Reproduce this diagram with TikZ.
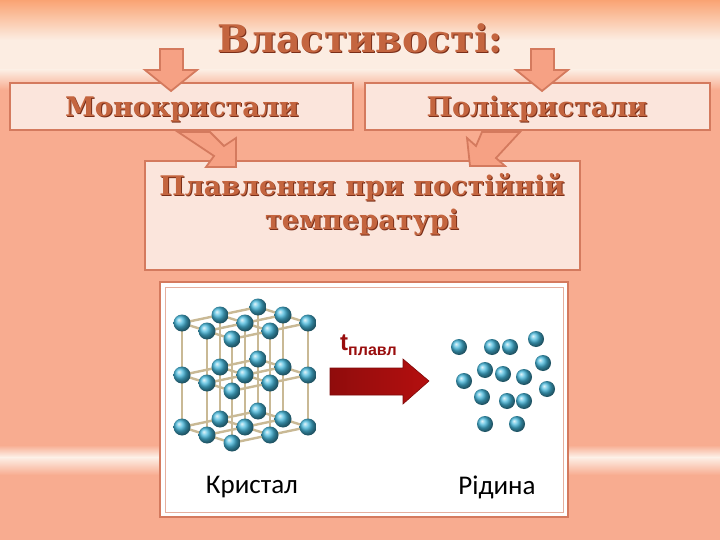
\documentclass[tikz,border=0pt]{standalone}
\usepackage{fontspec}
\setmainfont{DejaVu Serif}
\newfontfamily\calib{Carlito}
\newfontfamily\arialf{Liberation Sans}
\usetikzlibrary{shadings}
\definecolor{salmon}{HTML}{F8AC90}
\definecolor{cream}{HTML}{FCEDE2}
\definecolor{boxfill}{HTML}{FBE5DC}
\definecolor{edge}{HTML}{D47A5E}
\definecolor{txt}{HTML}{C4653F}
\definecolor{txtdark}{HTML}{7A2E18}
\definecolor{arrfill}{HTML}{F6A184}
\definecolor{rod}{HTML}{C9B995}
\definecolor{atom}{HTML}{45B8DC}
\definecolor{redarr}{HTML}{B40F0F}
\tikzset{
 panel/.style={draw=edge,line width=2.2pt,fill=boxfill},
 blockarr/.style={draw=edge,line width=1.8pt,fill=arrfill,line join=miter},
 ball/.style={shading=ball,ball color=atom},
}
\newcommand{\fancytext}[4]{%
 \node[font=#3,text=txtdark,align=center] at ([shift={(1pt,-1pt)}]#1) {#4};
 \node[font=#3,text=txt,align=center] (#2) at (#1) {#4};}
\begin{document}
\begin{tikzpicture}[x=1pt,y=-1pt]
\useasboundingbox (0,0) rectangle (720,540);
% background
\fill[salmon] (0,0) rectangle (720,540);
\shade[top color=salmon!80!orange,bottom color=cream] (0,0) rectangle (720,40);
\fill[cream] (0,40) rectangle (720,70);
\shade[top color=cream,bottom color=salmon] (0,70) rectangle (720,90);
\shade[top color=salmon,bottom color=cream!80!white] (0,445) rectangle (720,457);
\shade[top color=cream!80!white,bottom color=salmon] (0,457) rectangle (720,475);
% title
\fancytext{360,38}{title}{\bfseries\fontsize{38}{40}\selectfont}{Властивості:}
% boxes
\draw[panel] (10,83) rectangle (353,130);
\draw[panel] (365,83) rectangle (710,130);
\draw[panel] (145,161) rectangle (580,270);
% top arrows
\draw[blockarr] (160,49) -- (183,49) -- (183,70) -- (197,70) -- (171,91) -- (145,70) -- (160,70) -- cycle;
\draw[blockarr] (531,49) -- (554,49) -- (554,70) -- (568,70) -- (542,91) -- (516,70) -- (531,70) -- cycle;
% lower arrows
\draw[blockarr] (178,132) -- (210,132) -- (224,146) -- (236,138) -- (236,167) -- (206,167) -- (214,156) -- cycle;
\draw[blockarr] (482,132) -- (520,132) -- (496,158) -- (505,166) -- (470,166) -- (467,138) -- (476,146) -- cycle;
\fancytext{182,109}{mono}{\bfseries\fontsize{27}{30}\selectfont}{Монокристали}
\fancytext{537,109}{poly}{\bfseries\fontsize{27}{30}\selectfont}{Полікристали}
\fancytext{362,204}{melt}{\bfseries\fontsize{27}{34}\selectfont}{Плавлення при постійній\\температурі}
% picture panel
\draw[draw=edge,line width=2.5pt,fill=white] (160,282) rectangle (568,517);
\draw[edge!60,line width=0.8pt] (165,287) rectangle (563,512);
% lattice
\foreach \i in {0,1,2}{\foreach \j in {0,1,2}{\foreach \k in {0,1,2}{
  \pgfmathsetmacro\xa{232+38*\i-25*\k}\pgfmathsetmacro\ya{443-8*\i-8*\k-52*\j}
  \ifnum\i<2 \pgfmathsetmacro\xb{\xa+38}\pgfmathsetmacro\yb{\ya-8}\draw[rod,line width=2.4pt] (\xa,\ya)--(\xb,\yb);\fi
  \ifnum\k<2 \pgfmathsetmacro\xb{\xa-25}\pgfmathsetmacro\yb{\ya-8}\draw[rod,line width=2.4pt] (\xa,\ya)--(\xb,\yb);\fi
  \ifnum\j<2 \pgfmathsetmacro\yb{\ya-52}\draw[rod,line width=2.4pt] (\xa,\ya)--(\xa,\yb);\fi
}}}
\foreach \d in {4,3,2,1,0}{\foreach \i in {0,1,2}{\foreach \j in {2,1,0}{
  \pgfmathtruncatemacro\k{\d-\i}
  \ifnum\k>-1 \ifnum\k<3
   \pgfmathsetmacro\xa{232+38*\i-25*\k}\pgfmathsetmacro\ya{443-8*\i-8*\k-52*\j}
   \shade[ball] (\xa,\ya) circle (8.5);
  \fi\fi}}}
% red arrow
\shade[left color=redarr!80!black,right color=redarr,draw=redarr!70!black,line width=0.6pt]
 (330,368) -- (403,368) -- (403,359) -- (429,381) -- (403,404) -- (403,395) -- (330,395) -- cycle;
\node[font=\arialf\bfseries,text=redarr!85!black,anchor=base west,inner sep=0] (tt) at (340,350) {\fontsize{24}{24}\selectfont t\raisebox{-5pt}{\fontsize{16}{16}\selectfont плавл}};
% liquid
\foreach \x/\y in {459/347,492/347,510/347,536/339,543/363,485/370,503/374,524/377,464/381,547/389,482/397,507/401,524/401,485/424,517/424}
 \shade[ball] (\x,\y) circle (8);
\node[font=\calib\fontsize{27}{29}\selectfont] (kr) at (252,487) {Кристал};
\node[font=\calib\fontsize{27}{29}\selectfont] (rid) at (497,487) {Рідина};
\end{tikzpicture}
\end{document}
